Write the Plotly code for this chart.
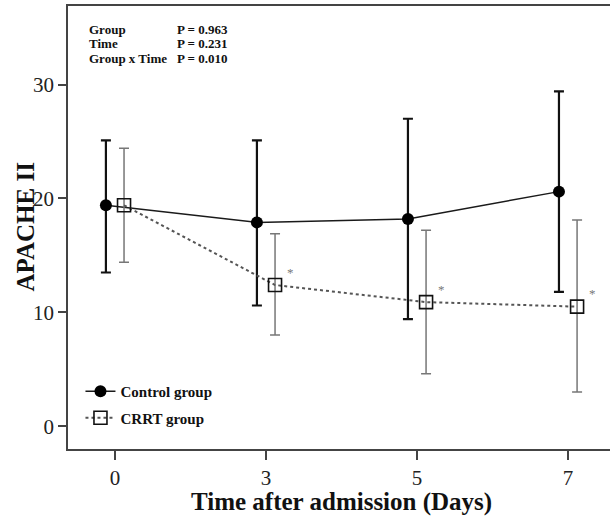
import plotly.graph_objects as go

days = ["0", "3", "5", "7"]
control_mean = [19.4, 17.9, 18.2, 20.6]
control_upper = [25.1, 25.1, 27.0, 29.4]
control_lower = [13.5, 10.6, 9.4, 11.8]
crrt_mean = [19.4, 12.4, 10.9, 10.5]
crrt_upper = [24.4, 16.9, 17.2, 18.1]
crrt_lower = [14.4, 8.0, 4.6, 3.0]
crrt_flags = ["", "*", "*", "*"]

stats_names = ["Group", "Time", "Group x Time"]
stats_p = ["P = 0.963", "P = 0.231", "P = 0.010"]

FONT = "Liberation Serif"
L, T, W, H = 68, 6, 542, 443
off = 0.06
pos = list(range(len(days)))
xc = [p - off for p in pos]
xr = [p + off for p in pos]

fig = go.Figure()
fig.add_trace(go.Scatter(
    x=xc, y=control_mean, mode="lines+markers", name="<b>Control group</b>",
    legendgroup="control",
    line=dict(color="#1a1a1a", width=1.5),
    marker=dict(symbol="circle", size=12, color="#000000"),
    error_y=dict(type="data", symmetric=False,
                 array=[u - m for u, m in zip(control_upper, control_mean)],
                 arrayminus=[m - l for m, l in zip(control_mean, control_lower)],
                 color="#111111", thickness=2.2, width=5),
))
fig.add_trace(go.Scatter(
    x=xr, y=crrt_mean, mode="lines+markers", name="<b>CRRT group</b>",
    legendgroup="crrt",
    line=dict(color="#555555", width=2, dash="dot"),
    marker=dict(symbol="square-open", size=13, color="#111111", line=dict(width=1.6)),
    error_y=dict(type="data", symmetric=False,
                 array=[u - m for u, m in zip(crrt_upper, crrt_mean)],
                 arrayminus=[m - l for m, l in zip(crrt_mean, crrt_lower)],
                 color="#777777", thickness=1.5, width=5),
))

for x, y, f in zip(xr, crrt_mean, crrt_flags):
    if f:
        fig.add_annotation(x=x, y=y, text=f, showarrow=False, xshift=15, yshift=13,
                           font=dict(family=FONT, size=13, color="#777777"))

for i, (n, p) in enumerate(zip(stats_names, stats_p)):
    yy = 1 - (29 - T + i * 14.5) / H
    fig.add_annotation(x=(87 - L) / W, y=yy, xref="paper", yref="paper",
                       text=f"<b>{n}</b>", showarrow=False, xanchor="left", yanchor="middle",
                       font=dict(family=FONT, size=13, color="#111111"))
    fig.add_annotation(x=(175 - L) / W, y=yy, xref="paper", yref="paper",
                       text=f"<b>{p}</b>", showarrow=False, xanchor="left", yanchor="middle",
                       font=dict(family=FONT, size=13, color="#111111"))

fig.add_annotation(x=(25 - L) / W, y=0.5, xref="paper", yref="paper",
                   text="<b>APACHE II</b>", textangle=-90, showarrow=False,
                   xanchor="center", yanchor="middle",
                   font=dict(family=FONT, size=25, color="#111111"))
fig.add_annotation(x=(341 - L) / W, y=-(502 - T - H) / H, xref="paper", yref="paper",
                   text="<b>Time after admission (Days)</b>", showarrow=False,
                   xanchor="center", yanchor="middle",
                   font=dict(family=FONT, size=25, color="#111111"))

fig.update_layout(
    width=610, height=521,
    margin=dict(l=L, r=0, t=T, b=521 - T - H),
    plot_bgcolor="white", paper_bgcolor="white",
    font=dict(family=FONT, color="#222222"),
    showlegend=True,
    legend=dict(x=0.023, y=0.167, xanchor="left", yanchor="top",
                bgcolor="rgba(0,0,0,0)", font=dict(family=FONT, size=15, color="#111111"),
                itemsizing="trace", traceorder="grouped", tracegroupgap=4),
)
fig.update_xaxes(
    range=[-0.311, 3.278], tickmode="array", tickvals=pos, ticktext=days,
    showgrid=False, zeroline=False, showline=True, linecolor="#444444", linewidth=1.5,
    mirror=True, ticks="outside", ticklen=9, tickwidth=1.5, tickcolor="#444444",
    tickfont=dict(family=FONT, size=21, color="#222222"), automargin=False,
)
fig.update_yaxes(
    range=[-2.0, 36.9], tickvals=[0, 10, 20, 30],
    showgrid=False, zeroline=False, showline=True, linecolor="#444444", linewidth=1.5,
    ticks="outside", ticklen=8, tickwidth=1.5, tickcolor="#444444",
    tickfont=dict(family=FONT, size=21, color="#222222"), automargin=False,
)

fig.write_html("out.html", config={"displayModeBar": False},
               post_script="document.body.style.margin='0';document.body.style.padding='0';")
